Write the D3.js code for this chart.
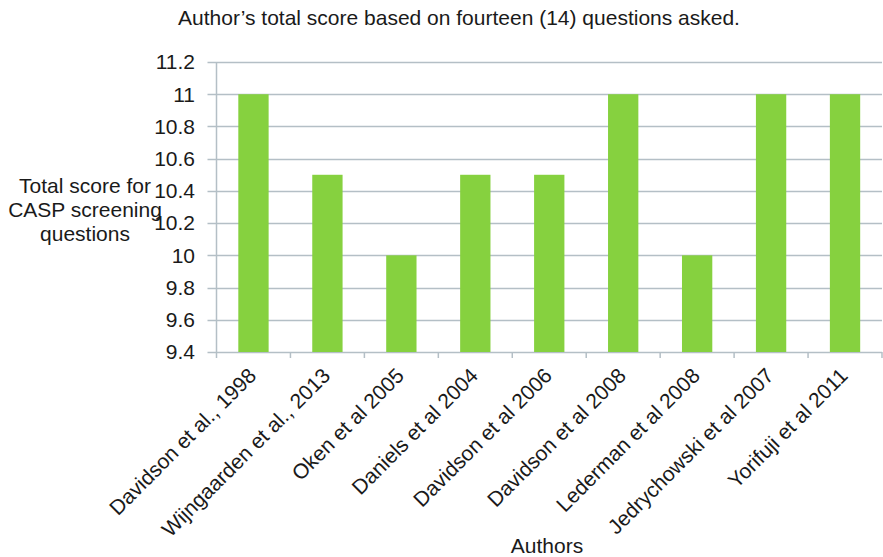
<!DOCTYPE html>
<html><head><meta charset="utf-8">
<script src="https://cdn.jsdelivr.net/npm/d3@7"></script>
<style>body{margin:0;background:#fff;}svg{display:block;font-family:"Liberation Sans",Arial,sans-serif;}</style>
</head><body>
<script>
const authors = ["Davidson et al., 1998","Wijngaarden et al., 2013","Oken et al 2005","Daniels et al 2004","Davidson et al 2006","Davidson et al 2008","Lederman et al 2008","Jedrychowski et al 2007","Yorifuji et al 2011"];
const scores = [11, 10.5, 10, 10.5, 10.5, 11, 10, 11, 11];
const yTicks = [9.4, 9.6, 9.8, 10, 10.2, 10.4, 10.6, 10.8, 11, 11.2];
const titleText = "Author\u2019s total score based on fourteen (14) questions asked.";
const yLabelLines = ["Total score for", "CASP screening", "questions"];
const xLabelText = "Authors";

(function () {
const W = 883, H = 557;
const FS = 21;
const svg = d3.select("body").append("svg").attr("width", W).attr("height", H);
const pLeft = 216.5, pRight = 882, pTop = 62, pBottom = 352;

const x = d3.scaleBand().domain(authors).range([pLeft, pRight]).paddingInner(0.59).paddingOuter(0.295);
const xt = d3.scaleBand().domain(authors).range([pLeft, pRight]);
const y = d3.scaleLinear().domain([9.4, 11.2]).range([pBottom, pTop]);

const gridColor = "#b4bfc6";
svg.append("g").selectAll("line").data(yTicks).join("line")
  .attr("x1", pLeft - 9).attr("x2", pRight).attr("y1", d => Math.round(y(d)) + 0.5).attr("y2", d => Math.round(y(d)) + 0.5)
  .attr("stroke", gridColor).attr("stroke-width", 1.5);
svg.append("line").attr("x1", pLeft).attr("x2", pLeft).attr("y1", pTop).attr("y2", pBottom + 6)
  .attr("stroke", gridColor).attr("stroke-width", 1.5);
svg.append("g").selectAll("line").data(authors).join("line")
  .attr("x1", d => xt(d) + xt.bandwidth()).attr("x2", d => xt(d) + xt.bandwidth())
  .attr("y1", pBottom).attr("y2", pBottom + 6).attr("stroke", gridColor).attr("stroke-width", 1.5);

svg.append("g").selectAll("rect").data(authors).join("rect")
  .attr("x", d => x(d)).attr("width", x.bandwidth())
  .attr("y", (d, i) => y(scores[i])).attr("height", (d, i) => y(9.4) - y(scores[i]))
  .attr("fill", "#86d13f");

svg.append("g").selectAll("text").data(yTicks).join("text")
  .attr("x", 195).attr("y", d => y(d)).attr("dy", "0.35em").attr("text-anchor", "end")
  .attr("font-size", FS).attr("fill", "#1a1a1a").text(d => String(+d.toFixed(1)));

svg.append("g").selectAll("text").data(authors).join("text")
  .attr("transform", d => `translate(${xt(d) + xt.bandwidth() / 2 + 4},${pBottom + 25}) rotate(-45)`)
  .attr("text-anchor", "end").attr("font-size", FS).attr("fill", "#1a1a1a").text(d => d);

svg.append("text").attr("x", 459).attr("y", 25).attr("text-anchor", "middle")
  .attr("font-size", FS).attr("fill", "#1a1a1a").text(titleText);

svg.append("g").selectAll("text").data(yLabelLines).join("text")
  .attr("x", 85).attr("y", (d, i) => 193 + i * 24).attr("text-anchor", "middle")
  .attr("font-size", FS).attr("fill", "#1a1a1a").text(d => d);

svg.append("text").attr("x", 547).attr("y", 553).attr("text-anchor", "middle")
  .attr("font-size", FS).attr("fill", "#1a1a1a").text(xLabelText);
})();
</script>
</body></html>
